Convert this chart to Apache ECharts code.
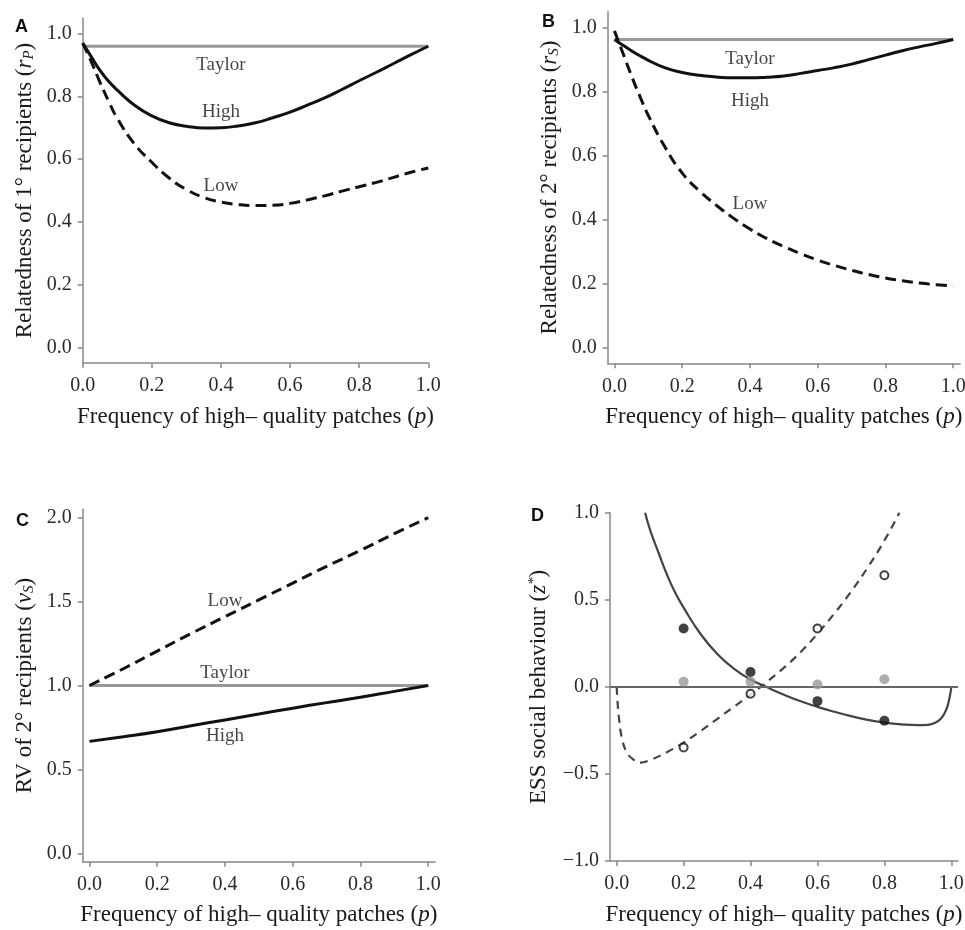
<!DOCTYPE html>
<html>
<head>
<meta charset="utf-8">
<title>Relatedness, reproductive value and ESS social behaviour</title>
<script src="https://cdn.jsdelivr.net/npm/echarts@6/dist/echarts.min.js"></script>
<style>
  html, body { margin: 0; padding: 0; background: #fff; }
  #chart { width: 965px; height: 930px; }
</style>
</head>
<body>
<div id="chart"></div>
<script>
// panels A and B: frequency of high-quality patches
const pAB = [0, 0.025, 0.05, 0.075, 0.1, 0.15, 0.2, 0.25, 0.3, 0.35, 0.4, 0.45, 0.5, 0.55, 0.6, 0.65, 0.7, 0.75, 0.8, 0.85, 0.9, 0.95, 1];
const highA = [0.97, 0.926, 0.883, 0.848, 0.82, 0.772, 0.738, 0.716, 0.705, 0.699, 0.7, 0.706, 0.716, 0.732, 0.75, 0.772, 0.795, 0.822, 0.85, 0.877, 0.905, 0.933, 0.96];
const lowA = [0.97, 0.91, 0.845, 0.785, 0.73, 0.648, 0.59, 0.54, 0.503, 0.478, 0.463, 0.455, 0.452, 0.453, 0.459, 0.47, 0.483, 0.498, 0.512, 0.526, 0.542, 0.558, 0.572];
const highB = [0.963, 0.945, 0.928, 0.912, 0.898, 0.874, 0.86, 0.851, 0.846, 0.843, 0.843, 0.845, 0.849, 0.857, 0.866, 0.875, 0.886, 0.9, 0.914, 0.928, 0.94, 0.951, 0.963];
const lowB = [0.99, 0.92, 0.85, 0.785, 0.725, 0.625, 0.545, 0.49, 0.445, 0.405, 0.37, 0.34, 0.315, 0.293, 0.273, 0.256, 0.241, 0.228, 0.217, 0.208, 0.201, 0.196, 0.192];
const taylorP = [0, 1];
const taylorA = [0.96, 0.96];
const taylorB = [0.963, 0.963];

// panel C: reproductive value of secondary recipients
const pC = [0, 0.1, 0.2, 0.3, 0.4, 0.5, 0.6, 0.7, 0.8, 0.9, 1];
const lowC = [1.0, 1.1, 1.205, 1.31, 1.41, 1.51, 1.61, 1.71, 1.805, 1.905, 2.0];
const highC = [0.667, 0.695, 0.725, 0.76, 0.795, 0.83, 0.865, 0.898, 0.93, 0.965, 1.0];
const taylorC = [1, 1];

// panel D: ESS social behaviour
const pSolidD = [0.085, 0.1, 0.125, 0.15, 0.175, 0.2, 0.25, 0.3, 0.35, 0.4, 0.45, 0.5, 0.55, 0.6, 0.65, 0.7, 0.75, 0.8, 0.85, 0.9, 0.93, 0.95, 0.97, 0.985, 0.995, 1];
const solidD = [1.0, 0.9, 0.77, 0.645, 0.54, 0.455, 0.305, 0.19, 0.105, 0.042, -0.003, -0.045, -0.083, -0.115, -0.143, -0.168, -0.19, -0.205, -0.215, -0.22, -0.218, -0.208, -0.18, -0.13, -0.06, 0];
const pDashD = [0, 0.003, 0.008, 0.015, 0.028, 0.045, 0.07, 0.1, 0.15, 0.2, 0.25, 0.3, 0.35, 0.4, 0.45, 0.5, 0.55, 0.6, 0.65, 0.7, 0.75, 0.8, 0.845];
const dashD = [0, -0.1, -0.2, -0.29, -0.37, -0.41, -0.435, -0.42, -0.375, -0.32, -0.255, -0.185, -0.115, -0.045, 0.03, 0.11, 0.2, 0.305, 0.42, 0.545, 0.685, 0.84, 1.0];
const pPoints = [0.2, 0.4, 0.6, 0.8];
const blackD = [0.335, 0.085, -0.082, -0.195];
const openD = [-0.348, -0.04, 0.335, 0.641];
const greyD = [0.03, 0.03, 0.014, 0.044];

// tick labels
const xTicks = [0, 0.2, 0.4, 0.6, 0.8, 1];
const yTicksAB = [0, 0.2, 0.4, 0.6, 0.8, 1];
const yTicksC = [0, 0.5, 1, 1.5, 2];
const yTicksD = [-1, -0.5, 0, 0.5, 1];

// curve labels
const curveNames = ['Taylor', 'High', 'Low'];
const labelPosA = [[0.40, 0.90], [0.40, 0.75], [0.40, 0.515]];
const labelPosB = [[0.40, 0.903], [0.40, 0.772], [0.40, 0.447]];
const labelPosC = [[0.40, 1.077], [0.40, 0.70], [0.40, 1.503]];

const SERIF = '"Liberation Serif", "DejaVu Serif", serif';
const AXIS_GREY = '#888';
const TEXT = '#1a1a1a';

const zip = (xs, ys) => xs.map((x, i) => [x, ys[i]]);
const fmt = v => (v < 0 ? '\u2212' + (-v).toFixed(1) : v.toFixed(1));

const nameStyle = {
    fontFamily: SERIF,
    fontSize: 23,
    color: TEXT,
    rich: {
        i: { fontFamily: SERIF, fontSize: 23, fontStyle: 'italic', color: TEXT },
        sub: { fontFamily: SERIF, fontSize: 15, fontStyle: 'italic', color: TEXT, verticalAlign: 'bottom', lineHeight: 12 },
        sup: { fontFamily: SERIF, fontSize: 15, fontStyle: 'italic', color: TEXT, verticalAlign: 'top', lineHeight: 14 }
    }
};

const axisBase = (ticks) => ({
    type: 'value',
    axisLine: { show: true, onZero: false, lineStyle: { color: AXIS_GREY, width: 1.5 } },
    axisTick: { show: true, length: 5, customValues: ticks, lineStyle: { color: AXIS_GREY, width: 1.5 } },
    axisLabel: { customValues: ticks, formatter: fmt, fontFamily: SERIF, fontSize: 20, color: '#2a2a2a', margin: 11 },
    splitLine: { show: false },
    nameLocation: 'middle',
    nameTextStyle: nameStyle
});

const xAxisOf = (gridIndex, min, max) => {
    const axis = Object.assign(axisBase(xTicks), {
        gridIndex, min, max,
        name: 'Frequency of high\u2013 quality patches ({i|p})',
        nameGap: 42
    });
    axis.axisLabel.margin = 13;
    return axis;
};

const yAxisOf = (gridIndex, min, max, ticks, name, gap) => Object.assign(axisBase(ticks), {
    gridIndex, min, max, name,
    nameRotate: 90,
    nameGap: gap
});

const lineSeries = (idx, data, color, width, type, smooth) => ({
    type: 'line',
    xAxisIndex: idx,
    yAxisIndex: idx,
    data,
    smooth: smooth === undefined ? true : smooth,
    symbol: 'none',
    silent: true,
    lineStyle: { color, width, type: type || 'solid' }
});

const labelSeries = (idx, positions) => ({
    type: 'scatter',
    xAxisIndex: idx,
    yAxisIndex: idx,
    symbolSize: 1,
    silent: true,
    itemStyle: { color: 'rgba(0,0,0,0)' },
    label: { show: true, position: 'inside', formatter: '{b}', fontFamily: SERIF, fontSize: 19, color: '#151515' },
    data: positions.map((v, i) => ({ name: curveNames[i], value: v }))
});

const pointSeries = (ys, size, itemStyle) => ({
    type: 'scatter',
    xAxisIndex: 3,
    yAxisIndex: 3,
    symbol: 'circle',
    symbolSize: size,
    silent: true,
    itemStyle,
    data: zip(pPoints, ys),
    z: 5
});

const panelLetter = (text, left, top) => ({
    type: 'text',
    left, top,
    style: { text, font: 'bold 18px "Liberation Sans", Arial, sans-serif', fill: '#111' }
});

const DASH = [11, 6];

const option = {
    backgroundColor: '#fff',
    animation: false,
    grid: [
        { left: 82.7, top: 18, width: 345.6, height: 345, outerBoundsMode: 'none' },
        { left: 607.7, top: 11.7, width: 352.3, height: 351.6, outerBoundsMode: 'none' },
        { left: 82.7, top: 509.3, width: 352.3, height: 352.4, outerBoundsMode: 'none' },
        { left: 610, top: 512.7, width: 348, height: 348.3, outerBoundsMode: 'none' }
    ],
    xAxis: [
        xAxisOf(0, 0, 1),
        xAxisOf(1, -0.02, 1.02),
        xAxisOf(2, -0.02, 1.02),
        xAxisOf(3, -0.02, 1.02)
    ],
    yAxis: [
        yAxisOf(0, -0.05, 1.05, yTicksAB, 'Relatedness of 1\u00b0 recipients ({i|r}{sub|P})', 46),
        yAxisOf(1, -0.05, 1.05, yTicksAB, 'Relatedness of 2\u00b0 recipients ({i|r}{sub|S})', 46),
        yAxisOf(2, -0.05, 2.05, yTicksC, 'RV of 2\u00b0 recipients ({i|v}{sub|S})', 46),
        yAxisOf(3, -1, 1, yTicksD, 'ESS social behaviour ({i|z}{sup|*})', 60)
    ],
    graphic: [
        panelLetter('A', 15, 18),
        panelLetter('B', 542, 13),
        panelLetter('C', 16, 512),
        panelLetter('D', 531, 507)
    ],
    series: [
        // A
        lineSeries(0, zip(taylorP, taylorA), '#999', 3.2, 'solid', false),
        lineSeries(0, zip(pAB, highA), '#111', 3),
        lineSeries(0, zip(pAB, lowA), '#111', 3, DASH),
        labelSeries(0, labelPosA),
        // B
        lineSeries(1, zip(taylorP, taylorB), '#999', 3.2, 'solid', false),
        lineSeries(1, zip(pAB, highB), '#111', 3),
        lineSeries(1, zip(pAB, lowB), '#111', 3, DASH),
        labelSeries(1, labelPosB),
        // C
        lineSeries(2, zip(taylorP, taylorC), '#999', 3.2, 'solid', false),
        lineSeries(2, zip(pC, highC), '#111', 3),
        lineSeries(2, zip(pC, lowC), '#111', 3, DASH),
        labelSeries(2, labelPosC),
        // D
        Object.assign(lineSeries(3, zip(pSolidD, solidD), '#444', 2.2, 'solid', 0.5), {
            markLine: {
                silent: true,
                symbol: 'none',
                label: { show: false },
                lineStyle: { color: '#666', width: 2, type: 'solid' },
                data: [{ yAxis: 0 }]
            }
        }),
        lineSeries(3, zip(pDashD, dashD), '#444', 2.2, [8, 6], 0.4),
        pointSeries(greyD, 10, { color: '#9a9a9a' }),
        pointSeries(blackD, 10, { color: '#111' }),
        pointSeries(openD, 8, { color: '#fff', borderColor: '#111', borderWidth: 2 })
    ]
};

const chart = echarts.init(document.getElementById('chart'), null, { renderer: 'canvas' });
chart.setOption(option);
</script>
</body>
</html>
